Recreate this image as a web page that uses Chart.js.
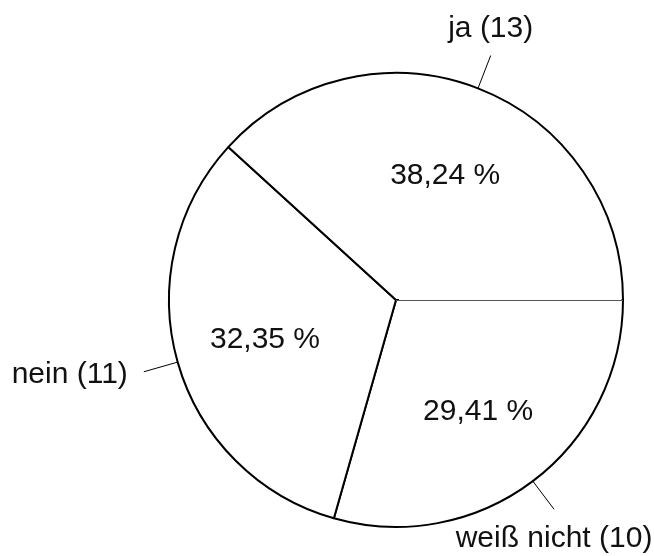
<!DOCTYPE html>
<html>
<head>
<meta charset="utf-8">
<script src="https://cdn.jsdelivr.net/npm/chart.js@4/dist/chart.umd.min.js"></script>
<style>
  html, body { margin: 0; padding: 0; background: #ffffff; }
  #wrap { width: 654px; height: 556px; }
</style>
</head>
<body>
<div id="wrap"><canvas id="pie" width="654" height="556"></canvas></div>
<script>
// Answers to the question, listed clockwise starting at the 3 o'clock position
const categories = ['weiß nicht', 'nein', 'ja'];
const counts = [10, 11, 13];

const FONT = '30px "Liberation Sans Narrow", "Liberation Sans", sans-serif';
const total = counts.reduce((a, b) => a + b, 0);
const percentText = counts.map(v => (v / total * 100).toFixed(2).replace('.', ',') + ' %');
const outerText = categories.map((c, i) => c + ' (' + counts[i] + ')');

// Percent values inside each slice, names with counts outside on short leader lines
const sliceLabels = {
  id: 'sliceLabels',
  afterDatasetsDraw(chart) {
    const ctx = chart.ctx;
    const arcs = chart.getDatasetMeta(0).data;
    ctx.save();

    // the radius at the starting angle is drawn as a thin grey rule
    const first = arcs[0].getProps(['x', 'y', 'startAngle', 'outerRadius'], true);
    const ux = Math.cos(first.startAngle), uy = Math.sin(first.startAngle);
    ctx.lineCap = 'butt';
    ctx.strokeStyle = '#ffffff';
    ctx.lineWidth = 3;
    ctx.beginPath();
    ctx.moveTo(first.x + ux * 3, first.y + uy * 3);
    ctx.lineTo(first.x + ux * (first.outerRadius - 1.5), first.y + uy * (first.outerRadius - 1.5));
    ctx.stroke();
    ctx.strokeStyle = '#555555';
    ctx.lineWidth = 1.2;
    ctx.beginPath();
    ctx.moveTo(first.x, first.y + 0.5);
    ctx.lineTo(first.x + ux * first.outerRadius, first.y + uy * first.outerRadius + 0.5);
    ctx.stroke();

    ctx.font = FONT;
    ctx.fillStyle = '#111111';
    arcs.forEach((arc, i) => {
      const p = arc.getProps(['x', 'y', 'startAngle', 'endAngle', 'outerRadius'], true);
      const mid = (p.startAngle + p.endAngle) / 2;
      const cx = Math.cos(mid), sy = Math.sin(mid);
      const R = p.outerRadius;

      // value inside the slice
      const ri = R * 0.6;
      ctx.textAlign = 'center';
      ctx.textBaseline = 'alphabetic';
      ctx.fillText(percentText[i], p.x + cx * ri, p.y + sy * ri + 11);

      // leader line
      const r1 = R, r2 = R * 1.155;
      const ex = p.x + cx * r2, ey = p.y + sy * r2;
      ctx.beginPath();
      ctx.strokeStyle = '#000000';
      ctx.lineWidth = 1;
      ctx.moveTo(p.x + cx * r1, p.y + sy * r1);
      ctx.lineTo(ex, ey);
      ctx.stroke();

      // category label anchored at the end of the leader line
      let tx = ex, ty = ey;
      if (Math.abs(cx) > 0.7) {
        ctx.textAlign = cx < 0 ? 'right' : 'left';
        tx = ex + (cx < 0 ? -16 : 16);
        ty = ey + 11;
      } else {
        ctx.textAlign = 'center';
        ty = sy < 0 ? ey - 19 : ey + 38;
      }
      ctx.fillText(outerText[i], tx, ty);
    });
    ctx.restore();
  }
};

new Chart(document.getElementById('pie'), {
  type: 'pie',
  data: {
    labels: categories,
    datasets: [{
      data: counts,
      backgroundColor: '#ffffff',
      borderColor: '#000000',
      borderWidth: 2,
      hoverOffset: 0
    }]
  },
  options: {
    responsive: false,
    devicePixelRatio: 1,
    animation: false,
    rotation: 90,
    layout: { padding: { left: 168, right: 30, top: 72, bottom: 28 } },
    plugins: {
      legend: { display: false },
      tooltip: { enabled: false }
    }
  },
  plugins: [sliceLabels]
});
</script>
</body>
</html>
